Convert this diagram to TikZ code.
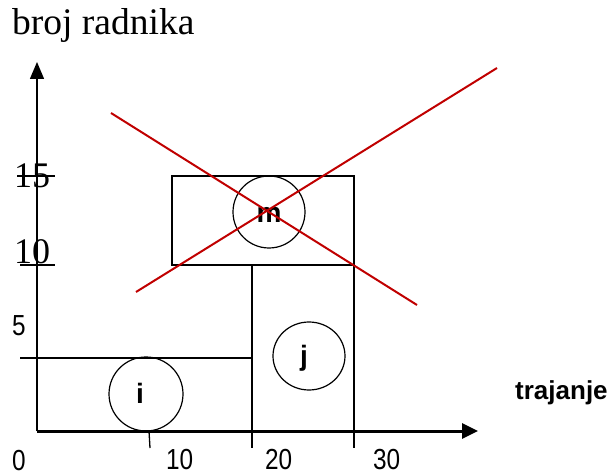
\documentclass[tikz,border=0pt]{standalone}
\usepackage{fontspec}
\setmainfont{Liberation Serif}
\newfontfamily\nsans[FakeStretch=0.84]{Liberation Sans}
\newfontfamily\bsans{Liberation Sans}
\usetikzlibrary{arrows.meta,shapes.geometric}
\definecolor{xred}{RGB}{192,0,0}
\tikzset{
  thinline/.style={line width=1.3pt,black},
  redline/.style={line width=2pt,xred},
  circ/.style={ellipse,draw,line width=1.2pt,inner sep=0pt},
  txt/.style={inner sep=0pt,anchor=base west},
  numtxt/.style={txt,font=\nsans\fontsize{29}{29}\selectfont},
  serifnum/.style={txt,font=\fontsize{36}{36}\selectfont},
  lettxt/.style={inner sep=0pt,anchor=base,font=\bsans\bfseries\fontsize{28}{28}\selectfont},
}
\begin{document}
\begin{tikzpicture}[x=1pt,y=-1pt]
\useasboundingbox (0,0) rectangle (614,476);
% coordinates
\coordinate (O) at (37,431);
\coordinate (Ytop) at (37,62);
\coordinate (Xend) at (478,431);
% title
\node[txt,font=\fontsize{37.5}{37.5}\selectfont] (title) at (12,35) {broj radnika};
% boxes
\draw[thinline] (172,176) rectangle (354,265);
\draw[thinline] (252,265) -- (252,448);
\draw[thinline] (354,265) -- (354,448);
\draw[thinline] (20,358) -- (252,358);
\draw[thinline] (149,431) -- (150,448);
% y ticks
\draw[thinline] (17,176) -- (55,176);
\draw[thinline] (20,265) -- (55,265);
% axes
\draw[line width=1.5pt,-{Triangle[length=17pt,width=14pt]}] (O) -- (Ytop);
\draw[line width=3pt,-{Triangle[length=16pt,width=15pt]}] (O) -- (Xend);
% circles
\node[circ,minimum width=74pt,minimum height=74pt] (ci) at (146,394) {};
\node[circ,minimum width=72pt,minimum height=68pt] (cj) at (309,356) {};
\node[circ,minimum width=72pt,minimum height=72pt] (cm) at (269,212) {};
\node[lettxt] (ti) at (140,403) {i};
\node[lettxt] (tj) at (304,365) {j};
\node[lettxt] (tm) at (269,223) {m};
% red cross
\coordinate (r1a) at (111,113);
\coordinate (r1b) at (417,305);
\coordinate (r2a) at (136,292);
\coordinate (r2b) at (497,68);
\draw[redline] (r1a) -- (r1b);
\draw[redline] (r2a) -- (r2b);
% labels
\node[serifnum] (l15) at (14,188) {15};
\node[serifnum] (l10) at (14,264) {10};
\node[numtxt] (l5) at (12,335) {5};
\node[numtxt] (l0) at (12,470) {0};
\node[numtxt] (lx10) at (166,469) {10};
\node[numtxt] (lx20) at (265,469) {20};
\node[numtxt] (lx30) at (373,469) {30};
\node[txt,font=\bsans\bfseries\fontsize{26}{26}\selectfont] (traj) at (515,399) {trajanje};
\end{tikzpicture}
\end{document}
